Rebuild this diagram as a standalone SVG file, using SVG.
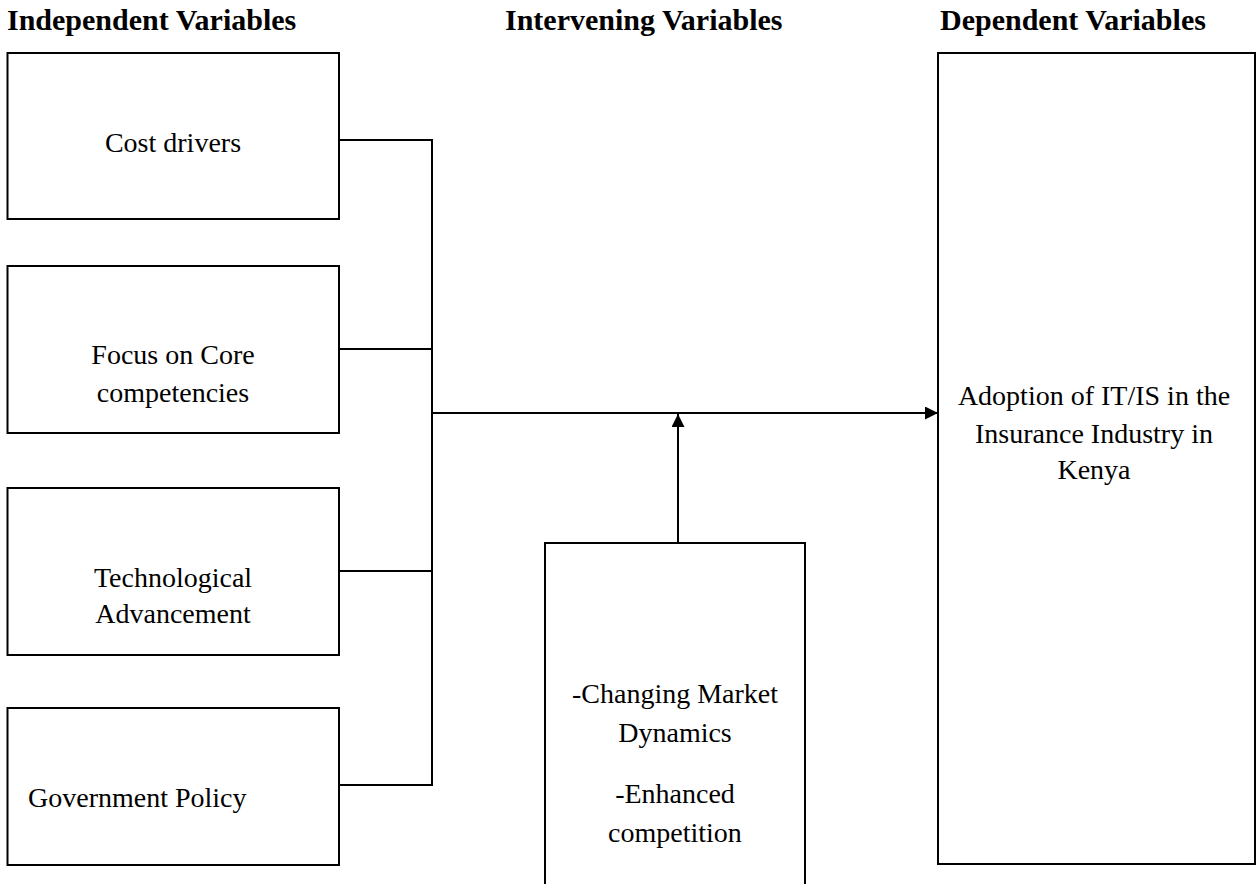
<svg xmlns="http://www.w3.org/2000/svg" width="1257" height="884" viewBox="0 0 1257 884">
  <style>
    .box { fill: #ffffff; stroke: #000000; stroke-width: 2; }
    .line { fill: none; stroke: #000000; stroke-width: 2; }
    .hdr { font-family: "Liberation Serif", "Times New Roman", serif; font-weight: bold; font-size: 30px; fill: #000000; }
    .lbl { font-family: "Liberation Serif", "Times New Roman", serif; font-size: 28px; fill: #000000; text-anchor: middle; }
  </style>
  <defs>
    <marker id="arrow" markerWidth="14" markerHeight="14" refX="13" refY="6.5" orient="auto" markerUnits="userSpaceOnUse">
      <path d="M0,0 L13,6.5 L0,13 z" fill="#000000"/>
    </marker>
  </defs>
  <rect width="1257" height="884" fill="#ffffff"/>

  <g id="headers">
    <text class="hdr" x="7" y="30">Independent Variables</text>
    <text class="hdr" x="505" y="30">Intervening Variables</text>
    <text class="hdr" x="940" y="30">Dependent Variables</text>
  </g>

  <g id="connectors">
    <polyline class="line" points="339,140 432,140 432,785 339,785"/>
    <line class="line" x1="339" y1="349" x2="432" y2="349"/>
    <line class="line" x1="339" y1="571" x2="432" y2="571"/>
    <line class="line" x1="432" y1="413" x2="938" y2="413" marker-end="url(#arrow)"/>
    <line class="line" x1="678" y1="543" x2="678" y2="414" marker-end="url(#arrow)"/>
  </g>

  <g id="cost-drivers">
    <rect class="box" x="7.5" y="53" width="331.5" height="166"/>
    <text class="lbl" x="173" y="152">Cost drivers</text>
  </g>

  <g id="core-competencies">
    <rect class="box" x="7.5" y="266" width="331.5" height="167"/>
    <text class="lbl" x="173" y="364">Focus on Core</text>
    <text class="lbl" x="173" y="402">competencies</text>
  </g>

  <g id="tech-advancement">
    <rect class="box" x="7.5" y="488" width="331.5" height="167"/>
    <text class="lbl" x="173" y="587">Technological</text>
    <text class="lbl" x="173" y="623">Advancement</text>
  </g>

  <g id="government-policy">
    <rect class="box" x="7.5" y="708" width="331.5" height="157"/>
    <text class="lbl" x="28" y="807" style="text-anchor:start">Government Policy</text>
  </g>

  <g id="intervening">
    <path class="box" d="M545,886 L545,543 L805,543 L805,886"/>
    <text class="lbl" x="675" y="703">-Changing Market</text>
    <text class="lbl" x="675" y="742">Dynamics</text>
    <text class="lbl" x="675" y="803">-Enhanced</text>
    <text class="lbl" x="675" y="842">competition</text>
  </g>

  <g id="adoption">
    <rect class="box" x="938" y="53" width="317" height="811"/>
    <text class="lbl" x="1094" y="405">Adoption of IT/IS in the</text>
    <text class="lbl" x="1094" y="443">Insurance Industry in</text>
    <text class="lbl" x="1094" y="479">Kenya</text>
  </g>
</svg>
